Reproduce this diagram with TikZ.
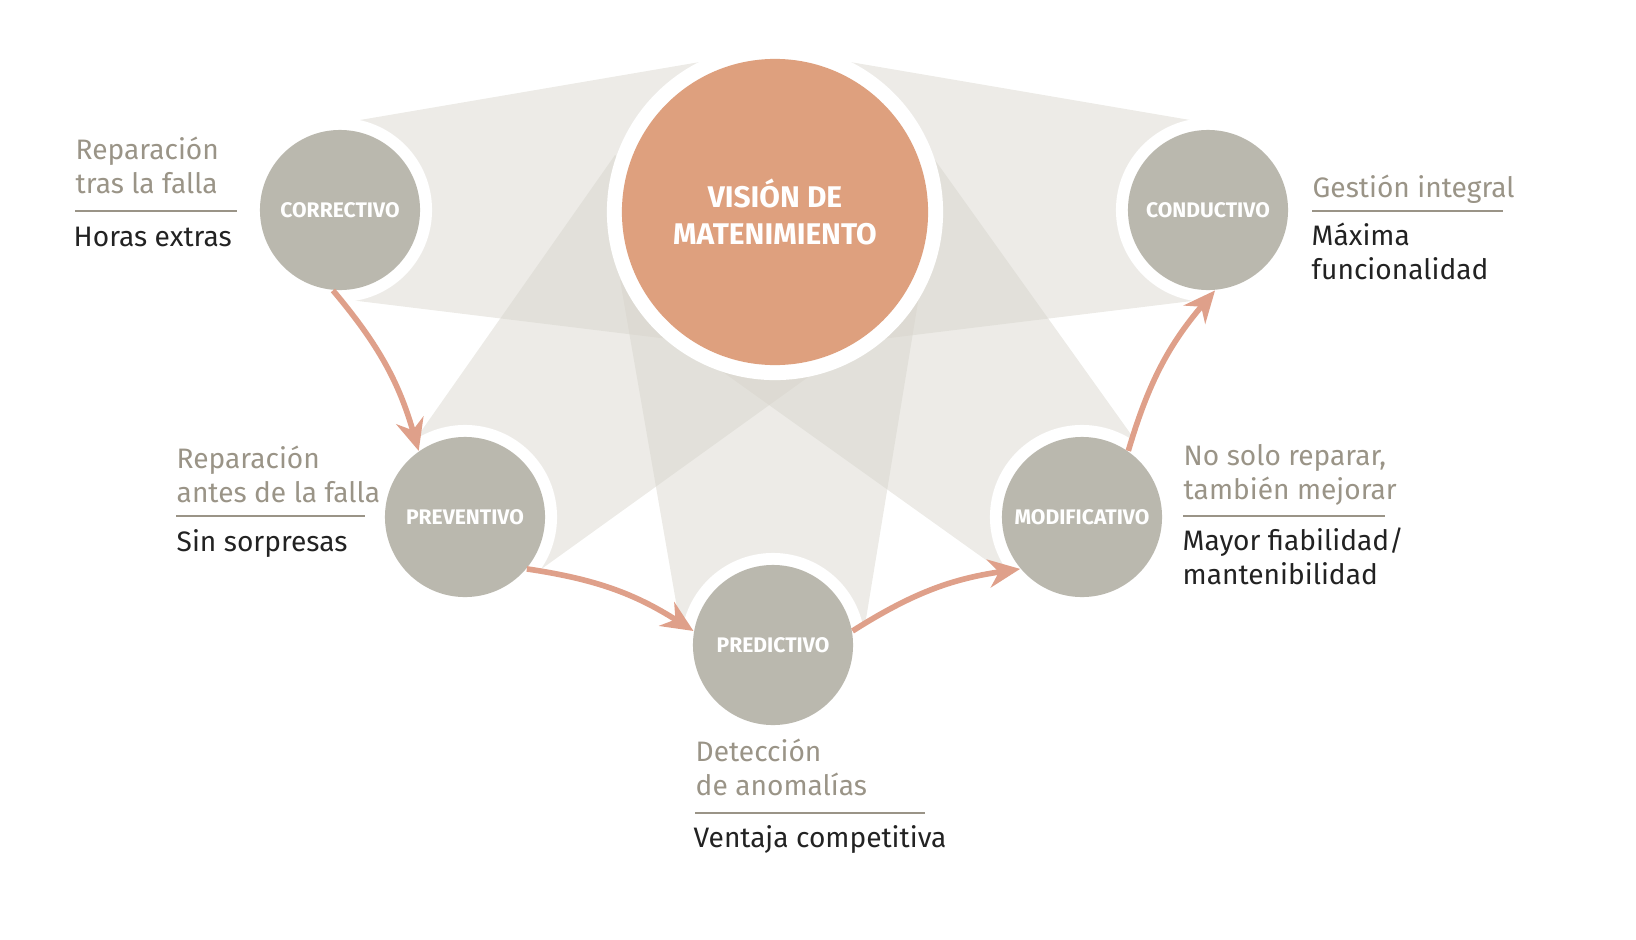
\documentclass[tikz,border=0pt]{standalone}
\usepackage{fontspec}
\setmainfont{Fira Sans}
\usetikzlibrary{arrows.meta}
\definecolor{beamgray}{HTML}{D6D3CA}
\definecolor{ballgray}{HTML}{BAB8AE}
\definecolor{mainorange}{HTML}{DEA07E}
\definecolor{arrowpink}{HTML}{DFA08A}
\definecolor{labelgray}{HTML}{9A9487}
\definecolor{textdark}{HTML}{222222}
\tikzset{
  beam/.style={fill=beamgray, fill opacity=0.45, draw=none},
  ring/.style={circle, fill=white, minimum size=1.84cm, inner sep=0},
  ball/.style={circle, fill=ballgray, minimum size=1.6cm, inner sep=0, text=white,
    font=\fontsize{6}{7}\selectfont\bfseries},
  cycle/.style={draw=arrowpink, line width=1.6pt,
    -{Stealth[length=9pt,width=8pt]}},
  graytext/.style={anchor=base west, align=left, text=labelgray,
    inner sep=0, font=\fontsize{8}{9.4}\selectfont},
  darktext/.style={anchor=base west, align=left, text=textdark,
    inner sep=0, font=\fontsize{8}{9.4}\selectfont},
  rule/.style={draw=labelgray, line width=0.4pt}
}
\begin{document}
\begin{tikzpicture}[x=0.01cm, y=-0.01cm]
  \useasboundingbox (0,0) rectangle (1636,939);
  % haces de luz
  \fill[beam] (360,120) -- (700,62) -- (840,360) -- (350,300) -- cycle;
  \fill[beam] (1190,120) -- (850,62) -- (710,360) -- (1200,300) -- cycle;
  \fill[beam] (415,440) -- (615,155) -- (825,365) -- (540,570) -- cycle;
  \fill[beam] (680,625) -- (620,280) -- (920,290) -- (865,625) -- cycle;
  \fill[beam] (1135,440) -- (935,160) -- (720,370) -- (1000,570) -- cycle;
  % centro
  \node[circle, fill=white, minimum size=3.36cm, inner sep=0] (vring) at (775,212) {};
  \node[circle, fill=mainorange, minimum size=3.06cm, inner sep=0, text=white, align=center,
    font=\fontsize{8.5}{10.6}\selectfont\bfseries] (vision) at (775,212)
    {VISIÓN DE\\MATENIMIENTO};
  % circulos
  \node[ring] at (340,210) {};
  \node[ball] (corr) at (340,210) {CORRECTIVO};
  \node[ring] at (1208,210) {};
  \node[ball] (cond) at (1208,210) {CONDUCTIVO};
  \node[ring] at (465,517) {};
  \node[ball] (prev) at (465,517) {PREVENTIVO};
  \node[ring] at (773,645) {};
  \node[ball] (pred) at (773,645) {PREDICTIVO};
  \node[ring] at (1082,517) {};
  \node[ball] (modi) at (1082,517) {MODIFICATIVO};
  % flechas
  \draw[cycle] (corr.-95) to[bend left=12] (prev.125);
  \draw[cycle] (prev.-40) to[bend left=12] (pred.170);
  \draw[cycle] (pred.10) to[bend left=12] (modi.-140);
  \draw[cycle] (modi.55) to[bend left=12] (cond.-85);
  % textos (base = ultima linea)
  \node[graytext] (corrA) at (75,193) {Reparación\\tras la falla};
  \draw[rule] (75,211) -- (237,211);
  \node[darktext] (corrB) at (73,246) {Horas extras};
  \node[graytext] (condA) at (1312,197) {Gestión integral};
  \draw[rule] (1312,211) -- (1503,211);
  \node[darktext] (condB) at (1311,279) {Máxima\\funcionalidad};
  \node[graytext] (prevA) at (176,502) {Reparación\\antes de la falla};
  \draw[rule] (176,516) -- (365,516);
  \node[darktext] (prevB) at (176,551) {Sin sorpresas};
  \node[graytext] (modiA) at (1183,499) {No solo reparar,\\también mejorar};
  \draw[rule] (1183,516) -- (1385,516);
  \node[darktext] (modiB) at (1182,584) {Mayor fiabilidad/\\mantenibilidad};
  \node[graytext] (predA) at (695,795) {Detección\\de anomalías};
  \draw[rule] (695,813) -- (925,813);
  \node[darktext] (predB) at (693,847) {Ventaja competitiva};
\end{tikzpicture}
\end{document}
